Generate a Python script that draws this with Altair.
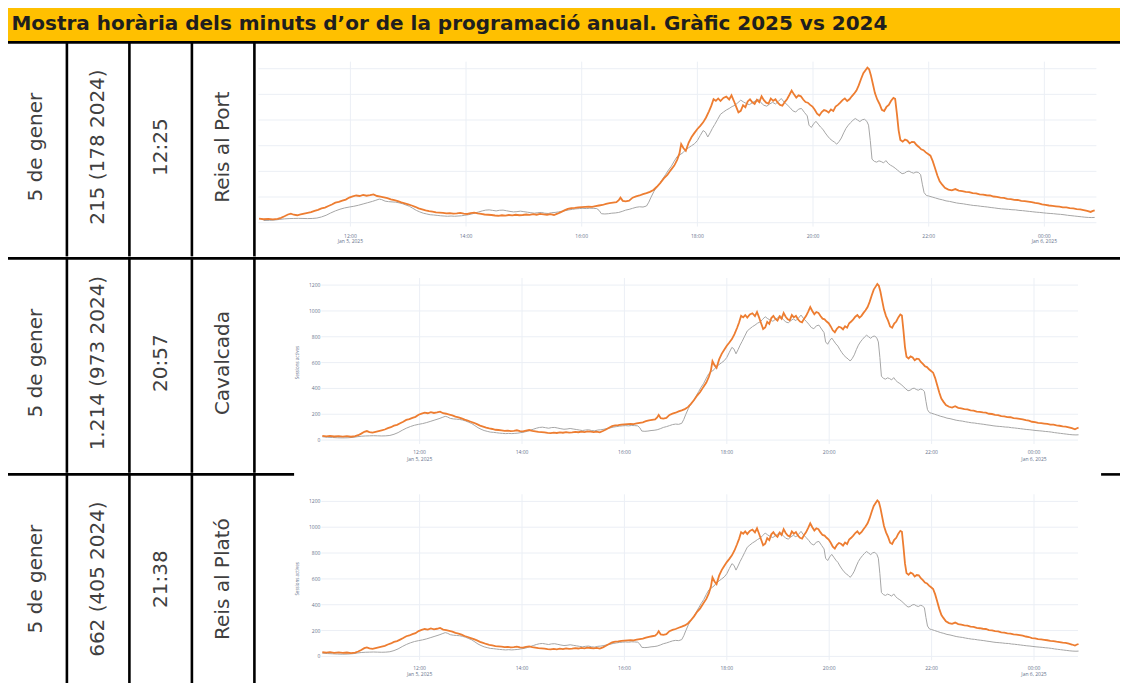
import altair as alt
import pandas as pd

TITLE = "Mostra horària dels minuts d’or de la programació anual. Gràfic 2025 vs 2024"
DATES = ["5 de gener", "5 de gener", "5 de gener"]
MINUTS = ["215 (178 2024)", "1.214 (973 2024)", "662 (405 2024)"]
HORES = ["12:25", "20:57", "21:38"]
PROGRAMES = ["Reis al Port", "Cavalcada", "Reis al Plató"]

TICK_HOURS = [12, 14, 16, 18, 20, 22, 24]
TICK_LABELS = ["12:00", "14:00", "16:00", "18:00", "20:00", "22:00", "00:00"]
DATE_HOURS = [12, 24]
DATE_LABELS = ["Jan 5, 2025", "Jan 6, 2025"]
Y_TICKS = [0, 200, 400, 600, 800, 1000, 1200]
Y_TITLE = "Sessions actives"

# (hour of 5 Jan, value); 24+ = after midnight
SERIE_2025 = [
    (10.10, 32), (10.18, 29), (10.25, 33), (10.33, 28), (10.42, 31), (10.5, 27), (10.58, 30), (10.66, 26),
    (10.74, 30), (10.8, 38), (10.86, 50), (10.92, 64), (10.97, 70), (11.02, 62), (11.08, 58), (11.14, 64),
    (11.2, 70), (11.26, 76), (11.32, 82), (11.38, 92), (11.44, 100), (11.5, 112), (11.56, 118), (11.62, 130),
    (11.68, 142), (11.74, 156), (11.8, 162), (11.86, 172), (11.92, 180), (11.98, 196), (12.04, 205), (12.1, 212),
    (12.16, 208), (12.22, 216), (12.28, 210), (12.34, 214), (12.4, 220), (12.46, 208), (12.52, 204), (12.58, 198),
    (12.64, 192), (12.7, 182), (12.76, 176), (12.82, 168), (12.88, 158), (12.94, 150), (13.0, 142), (13.06, 134),
    (13.12, 124), (13.18, 112), (13.24, 104), (13.3, 96), (13.36, 90), (13.42, 86), (13.48, 80), (13.54, 78),
    (13.6, 76), (13.66, 72), (13.72, 74), (13.78, 70), (13.84, 72), (13.9, 76), (13.96, 70), (14.02, 68),
    (14.08, 74), (14.14, 78), (14.2, 72), (14.26, 68), (14.32, 64), (14.38, 62), (14.44, 60), (14.5, 56),
    (14.56, 54), (14.62, 58), (14.68, 55), (14.74, 60), (14.8, 57), (14.86, 62), (14.92, 58), (14.98, 60),
    (15.04, 64), (15.1, 61), (15.16, 66), (15.22, 62), (15.28, 68), (15.34, 65), (15.4, 62), (15.46, 66),
    (15.52, 60), (15.58, 70), (15.64, 82), (15.7, 96), (15.76, 108), (15.82, 114), (15.88, 116), (15.94, 120),
    (16.0, 122), (16.06, 124), (16.12, 126), (16.18, 124), (16.24, 130), (16.3, 134), (16.36, 138), (16.42, 146),
    (16.48, 152), (16.54, 156), (16.6, 160), (16.64, 175), (16.67, 195), (16.71, 170), (16.76, 166), (16.82, 172),
    (16.88, 195), (16.94, 205), (17.0, 212), (17.06, 222), (17.12, 230), (17.18, 240), (17.24, 255), (17.3, 280),
    (17.36, 310), (17.42, 345), (17.48, 372), (17.54, 410), (17.6, 445), (17.65, 490), (17.69, 540), (17.72, 612),
    (17.76, 580), (17.8, 560), (17.85, 625), (17.9, 668), (17.95, 700), (18.0, 730), (18.05, 755), (18.1, 782),
    (18.15, 820), (18.2, 868), (18.24, 910), (18.28, 962), (18.32, 950), (18.36, 968), (18.4, 948), (18.45, 972),
    (18.5, 982), (18.55, 960), (18.59, 992), (18.63, 950), (18.67, 905), (18.71, 860), (18.75, 872), (18.79, 915),
    (18.83, 900), (18.87, 945), (18.91, 962), (18.95, 938), (18.99, 925), (19.03, 958), (19.07, 940), (19.11, 985),
    (19.15, 955), (19.19, 935), (19.23, 928), (19.27, 968), (19.31, 950), (19.35, 962), (19.39, 935), (19.43, 918),
    (19.47, 912), (19.51, 940), (19.55, 962), (19.59, 995), (19.63, 1030), (19.67, 1000), (19.71, 975), (19.75, 992),
    (19.79, 985), (19.83, 960), (19.87, 940), (19.91, 935), (19.95, 918), (19.99, 905), (20.03, 880), (20.07, 850),
    (20.11, 835), (20.15, 862), (20.19, 878), (20.23, 872), (20.27, 858), (20.31, 882), (20.35, 870), (20.39, 905),
    (20.43, 918), (20.47, 935), (20.51, 955), (20.55, 968), (20.59, 948), (20.63, 962), (20.67, 985), (20.71, 1005),
    (20.75, 1030), (20.79, 1070), (20.83, 1120), (20.87, 1165), (20.91, 1190), (20.94, 1208), (20.97, 1195), (21.0, 1150),
    (21.03, 1090), (21.07, 1010), (21.11, 960), (21.15, 925), (21.19, 880), (21.23, 870), (21.27, 902), (21.31, 918),
    (21.35, 950), (21.39, 972), (21.42, 965), (21.45, 850), (21.48, 720), (21.51, 645), (21.55, 632), (21.59, 648),
    (21.63, 640), (21.67, 618), (21.71, 630), (21.75, 628), (21.79, 605), (21.83, 590), (21.87, 572), (21.91, 565),
    (21.95, 548), (21.99, 535), (22.03, 522), (22.07, 480), (22.11, 425), (22.15, 368), (22.19, 322), (22.23, 298),
    (22.28, 272), (22.34, 258), (22.4, 252), (22.46, 262), (22.52, 250), (22.58, 246), (22.64, 240), (22.7, 238),
    (22.76, 230), (22.82, 228), (22.88, 220), (22.94, 218), (23.0, 214), (23.06, 212), (23.12, 204), (23.18, 202),
    (23.24, 196), (23.3, 194), (23.36, 186), (23.42, 184), (23.48, 178), (23.54, 177), (23.6, 170), (23.66, 168),
    (23.72, 164), (23.78, 160), (23.84, 154), (23.9, 150), (23.96, 142), (24.02, 139), (24.08, 134), (24.14, 131),
    (24.2, 128), (24.26, 125), (24.32, 120), (24.38, 119), (24.44, 114), (24.5, 111), (24.56, 106), (24.62, 104),
    (24.68, 98), (24.74, 92), (24.8, 84), (24.84, 92), (24.87, 96),
]

SERIE_2024 = [
    (10.10, 26), (10.2, 22), (10.3, 20), (10.4, 18), (10.5, 17), (10.6, 18), (10.7, 21), (10.78, 26),
    (10.86, 30), (10.94, 32), (11.02, 33), (11.1, 34), (11.18, 33), (11.26, 32), (11.34, 33), (11.42, 36),
    (11.5, 45), (11.58, 58), (11.66, 76), (11.74, 92), (11.82, 105), (11.9, 115), (11.98, 122), (12.06, 128),
    (12.14, 136), (12.22, 146), (12.3, 156), (12.38, 166), (12.44, 175), (12.5, 184), (12.54, 180), (12.6, 168),
    (12.66, 164), (12.72, 162), (12.78, 160), (12.84, 155), (12.9, 148), (12.96, 138), (13.02, 128), (13.08, 112),
    (13.14, 96), (13.2, 84), (13.26, 74), (13.32, 68), (13.38, 62), (13.44, 60), (13.5, 57), (13.56, 54),
    (13.62, 52), (13.68, 50), (13.74, 52), (13.8, 50), (13.86, 52), (13.92, 54), (13.98, 58), (14.04, 62),
    (14.1, 68), (14.16, 76), (14.22, 84), (14.28, 92), (14.34, 98), (14.4, 100), (14.46, 96), (14.52, 92),
    (14.58, 97), (14.64, 98), (14.7, 93), (14.76, 88), (14.82, 84), (14.88, 86), (14.94, 90), (15.0, 86),
    (15.06, 82), (15.12, 78), (15.18, 74), (15.24, 78), (15.3, 80), (15.36, 74), (15.42, 72), (15.48, 78),
    (15.54, 80), (15.6, 84), (15.66, 90), (15.72, 94), (15.78, 100), (15.84, 104), (15.9, 108), (15.96, 110),
    (16.02, 112), (16.08, 110), (16.14, 113), (16.2, 112), (16.26, 110), (16.3, 96), (16.34, 70), (16.4, 68),
    (16.46, 70), (16.52, 74), (16.58, 76), (16.64, 80), (16.7, 88), (16.76, 98), (16.82, 104), (16.88, 112),
    (16.94, 120), (17.0, 124), (17.06, 122), (17.12, 130), (17.16, 160), (17.2, 200), (17.25, 245), (17.3, 280),
    (17.35, 305), (17.4, 340), (17.45, 375), (17.5, 410), (17.55, 440), (17.6, 480), (17.65, 515), (17.7, 530),
    (17.75, 545), (17.8, 570), (17.85, 585), (17.9, 600), (17.95, 615), (18.0, 640), (18.05, 680), (18.1, 718),
    (18.14, 705), (18.18, 668), (18.22, 700), (18.26, 735), (18.3, 765), (18.35, 805), (18.4, 845), (18.45, 862),
    (18.5, 878), (18.55, 890), (18.6, 905), (18.65, 915), (18.7, 935), (18.75, 955), (18.8, 940), (18.85, 928),
    (18.9, 920), (18.95, 935), (19.0, 948), (19.05, 962), (19.1, 935), (19.15, 915), (19.2, 908), (19.25, 925),
    (19.3, 938), (19.35, 925), (19.4, 945), (19.45, 968), (19.5, 940), (19.55, 920), (19.6, 898), (19.65, 872),
    (19.7, 862), (19.75, 885), (19.8, 890), (19.85, 860), (19.9, 832), (19.93, 760), (19.97, 742), (20.01, 770),
    (20.05, 790), (20.09, 768), (20.13, 745), (20.17, 728), (20.21, 700), (20.25, 676), (20.29, 655), (20.33, 640),
    (20.37, 628), (20.41, 612), (20.45, 632), (20.49, 660), (20.53, 700), (20.57, 735), (20.61, 760), (20.65, 780),
    (20.69, 798), (20.73, 812), (20.77, 800), (20.81, 788), (20.85, 802), (20.89, 806), (20.93, 790), (20.96, 760),
    (20.99, 640), (21.02, 495), (21.06, 478), (21.1, 472), (21.14, 482), (21.18, 476), (21.22, 466), (21.26, 484),
    (21.3, 462), (21.34, 448), (21.38, 438), (21.42, 425), (21.46, 410), (21.5, 395), (21.54, 382), (21.58, 386),
    (21.62, 398), (21.66, 402), (21.7, 392), (21.74, 386), (21.78, 395), (21.82, 392), (21.86, 375), (21.89, 300),
    (21.92, 235), (21.96, 212), (22.0, 208), (22.06, 200), (22.12, 192), (22.18, 184), (22.24, 178), (22.3, 170),
    (22.36, 166), (22.42, 160), (22.48, 154), (22.54, 150), (22.6, 147), (22.66, 142), (22.72, 138), (22.78, 134),
    (22.84, 132), (22.9, 128), (22.96, 125), (23.02, 122), (23.08, 118), (23.14, 115), (23.2, 111), (23.26, 108),
    (23.32, 106), (23.38, 104), (23.44, 101), (23.5, 100), (23.56, 96), (23.62, 94), (23.68, 91), (23.74, 88),
    (23.8, 85), (23.86, 82), (23.92, 80), (23.98, 77), (24.04, 74), (24.1, 72), (24.16, 70), (24.22, 67),
    (24.28, 65), (24.34, 62), (24.4, 58), (24.46, 55), (24.52, 52), (24.58, 49), (24.64, 46), (24.7, 43),
    (24.76, 41), (24.82, 40), (24.87, 41),
]

# ---- styling ----
BORDER = "#000000"
BW = 2.6
YELLOW = "#FFC000"
ORANGE = "#ED7D31"
GRAY = "#A6A6A6"
GRID = "#EBEFF5"
LABEL = "#66738c"
CELL_FONT = "DejaVu Sans"
TINY = "Open Sans"

COLW = [61.5, 62.5, 62.5, 62.5]
CHART_X0 = sum(COLW)          # left edge of the chart cell inside a row
CHART_W = 867.3
TOTAL_W = CHART_X0 + CHART_W
HEADER_H = 36
ROW_H = [215.3, 215.7, 217]

df25 = pd.DataFrame(SERIE_2025, columns=["h", "v"])
df24 = pd.DataFrame(SERIE_2024, columns=["h", "v"])
one = pd.DataFrame({"k": [0]})


def vrule(x, h):
    return alt.Chart(one).mark_rule(color=BORDER, strokeWidth=BW).encode(
        x=alt.value(x + BW / 2), y=alt.value(0), y2=alt.value(h))


def hrule(x0, x1):
    return alt.Chart(one).mark_rule(color=BORDER, strokeWidth=BW).encode(
        x=alt.value(x0), x2=alt.value(x1), y=alt.value(BW / 2))


def cell_text(label, x, h):
    return alt.Chart(pd.DataFrame({"label": [label]})).mark_text(
        angle=270, align="center", baseline="middle", font=CELL_FONT, fontSize=20,
        color="#404040").encode(x=alt.value(x), y=alt.value(106), text="label:N")


def row_chart(i, h, pxhr, x12, y1200, k, xlab_px, date_px, x_lo, x_hi, show_y, top_segments):
    # x12: pixel of 12:00 measured from the chart cell's left edge
    gx12 = CHART_X0 + x12
    xdom = [12 - gx12 / pxhr, 12 + (TOTAL_W - gx12) / pxhr]
    top = 1200 + y1200 * k
    ydom = [top - h * k, top]
    xs = alt.Scale(domain=xdom, nice=False, zero=False)
    ys = alt.Scale(domain=ydom, nice=False, zero=False)

    def X(f):
        return alt.X(f, type="quantitative", scale=xs, axis=None)

    def Y(f):
        return alt.Y(f, type="quantitative", scale=ys, axis=None)

    hg = pd.DataFrame({"g": Y_TICKS, "a": x_lo, "b": x_hi})
    vg = pd.DataFrame({"t": TICK_HOURS, "lo": -30, "hi": 1255})
    hgrid = alt.Chart(hg).mark_rule(color=GRID, strokeWidth=1).encode(x=X("a"), x2="b", y=Y("g"))
    vgrid = alt.Chart(vg).mark_rule(color=GRID, strokeWidth=1).encode(x=X("t"), y=Y("lo"), y2="hi")

    l24 = alt.Chart(df24).transform_filter(alt.datum.h >= x_lo).mark_line(
        color=GRAY, strokeWidth=1).encode(x=X("h"), y=Y("v"))
    l25 = alt.Chart(df25).transform_filter(alt.datum.h >= x_lo).mark_line(
        color=ORANGE, strokeWidth=1.8).encode(x=X("h"), y=Y("v"))

    tk = pd.DataFrame({"t": TICK_HOURS, "lab": TICK_LABELS, "yy": top - xlab_px * k})
    dt = pd.DataFrame({"t": DATE_HOURS, "lab": DATE_LABELS, "yy": top - date_px * k})
    ticks = alt.Chart(tk).mark_text(font=TINY, fontSize=5, color=LABEL, align="center",
                                    baseline="middle").encode(x=X("t"), y=Y("yy"), text="lab:N")
    dates = alt.Chart(dt).mark_text(font=TINY, fontSize=5, color=LABEL, align="center",
                                    baseline="middle").encode(x=X("t"), y=Y("yy"), text="lab:N")
    layers = [hgrid, vgrid, l24, l25, ticks, dates]
    if show_y:
        ylx = 12 - (x12 - 67.3) / pxhr
        ytx = 12 - (x12 - 45.3) / pxhr
        yl = pd.DataFrame({"g": Y_TICKS, "lab": [str(v) for v in Y_TICKS], "xx": ylx})
        ylabels = alt.Chart(yl).mark_text(font=TINY, fontSize=5, color=LABEL, align="right",
                                          baseline="middle").encode(x=X("xx"), y=Y("g"), text="lab:N")
        yt = pd.DataFrame({"lab": [Y_TITLE], "xx": [ytx], "yy": [600]})
        ytitle = alt.Chart(yt).mark_text(font=TINY, fontSize=4.5, color=LABEL, angle=270, align="center",
                                         baseline="middle").encode(x=X("xx"), y=Y("yy"), text="lab:N")
        layers += [ylabels, ytitle]

    # table cells
    labels = [DATES[i], MINUTS[i], HORES[i], PROGRAMES[i]]
    x = 0
    for w, lab in zip(COLW, labels):
        layers.append(vrule(x, h))
        layers.append(cell_text(lab, x + w / 2 + 1.3, h))
        x += w
    layers.append(vrule(CHART_X0, h))
    for a, b in top_segments:
        layers.append(hrule(a, b))
    return alt.layer(*layers).properties(width=TOTAL_W, height=h)


rows = [
    row_chart(0, ROW_H[0], 57.83, 97.3, 27.6, 1200 / 154, 195, 200, 10.41, 24.9, False,
              [(0, TOTAL_W)]),
    row_chart(1, ROW_H[1], 51.2, 166.5, 28, 1200 / 155, 195.3, 202, 10.08, 24.86, True,
              [(0, TOTAL_W)]),
    row_chart(2, ROW_H[2], 51.2, 166.5, 28.3, 1200 / 155, 194.6, 200.8, 10.08, 24.86, True,
              [(0, CHART_X0 + 41), (CHART_X0 + 848, TOTAL_W)]),
]

band = alt.Chart(one).mark_rect(color=YELLOW).encode(
    x=alt.value(0), x2=alt.value(TOTAL_W), y=alt.value(0), y2=alt.value(HEADER_H))
title = alt.Chart(pd.DataFrame({"t": [TITLE]})).mark_text(
    font="DejaVu Sans", fontSize=20, fontWeight="bold", color="#1f1f1f", align="left",
    baseline="alphabetic").encode(x=alt.value(7.3), y=alt.value(25.3), text="t:N")
header = alt.layer(band, title, hrule(0, TOTAL_W), vrule(0, HEADER_H)).properties(
    width=TOTAL_W, height=HEADER_H)

chart = alt.vconcat(header, *rows, spacing=0, bounds="flush").properties(
    padding={"left": -5.9, "top": -4.9, "right": -2.6, "bottom": 0},
    background="white",
).configure_view(stroke=None)

chart.save("out.html", embed_options={"renderer": "svg", "actions": False})
